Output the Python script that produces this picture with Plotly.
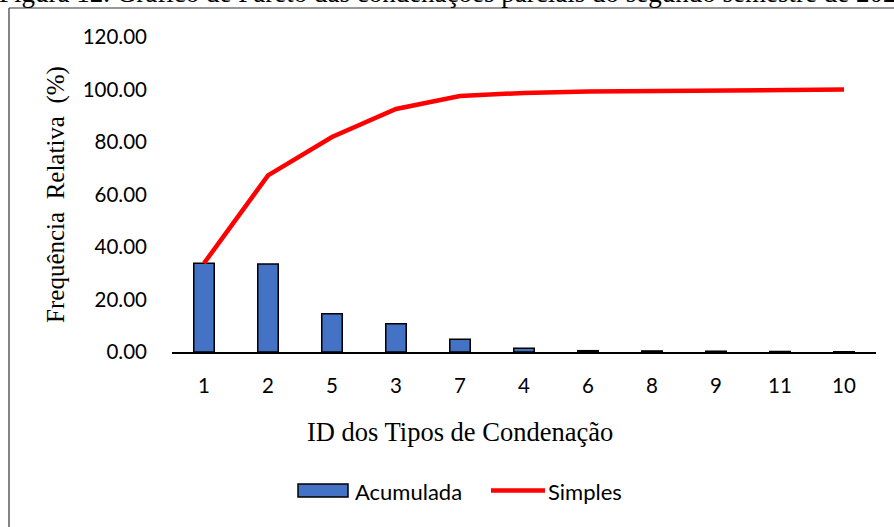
import plotly.graph_objects as go

categories = ["1", "2", "5", "3", "7", "4", "6", "8", "9", "11", "10"]
acumulada = [33.8, 33.5, 14.6, 10.8, 4.9, 1.4, 0.5, 0.4, 0.3, 0.2, 0.1]
simples = [33.8, 67.3, 81.9, 92.6, 97.5, 98.7, 99.2, 99.5, 99.8, 99.9, 100.0]
y_ticks = [0, 20, 40, 60, 80, 100, 120]

W, H = 894, 527
L, R, T, B = 172, 18, 37, 175
PW, PH = W - L - R, H - T - B

def px(x):
    return (x - L) / PW

def py(y):
    return (H - B - y) / PH

fig = go.Figure()
fig.add_trace(go.Bar(
    x=categories, y=acumulada, name="Acumulada",
    marker=dict(color="#4472C4", line=dict(color="black", width=1.5)),
    showlegend=False,
))
fig.add_trace(go.Scatter(
    x=categories, y=simples, name="Simples", mode="lines",
    line=dict(color="#FF0000", width=4.5),
    showlegend=False,
))

serif = "Liberation Serif, Times New Roman, serif"
sans = "Lato, Calibri, sans-serif"

shapes = [
    # outer frame (left and top edges)
    dict(type="line", xref="paper", yref="paper", x0=px(9), x1=px(9), y0=py(8), y1=py(540),
         line=dict(color="#333333", width=1.2)),
    dict(type="line", xref="paper", yref="paper", x0=px(9), x1=px(900), y0=py(8), y1=py(8),
         line=dict(color="#333333", width=1.2)),
    # legend symbols
    dict(type="rect", xref="paper", yref="paper", x0=px(298), x1=px(348), y0=py(484), y1=py(497),
         fillcolor="#4472C4", line=dict(color="black", width=1.5)),
    dict(type="line", xref="paper", yref="paper", x0=px(491), x1=px(545), y0=py(490.5), y1=py(490.5),
         line=dict(color="#FF0000", width=4.5)),
]

annotations = [
    dict(text="Figura 12. Gráfico de Pareto das condenações parciais do segundo semestre de 2023",
         xref="paper", yref="paper", x=px(-3), y=py(-7), xanchor="left", yanchor="middle",
         showarrow=False, font=dict(family=serif, size=27, color="black")),
    dict(text="ID dos Tipos de Condenação", xref="paper", yref="paper", x=px(460), y=py(432),
         xanchor="center", yanchor="middle", showarrow=False,
         font=dict(family=serif, size=26.5, color="black")),
    dict(text="Acumulada", xref="paper", yref="paper", x=px(353), y=py(491),
         xanchor="left", yanchor="middle", showarrow=False,
         font=dict(family=sans, size=22, color="black")),
    dict(text="Simples", xref="paper", yref="paper", x=px(546), y=py(491),
         xanchor="left", yanchor="middle", showarrow=False,
         font=dict(family=sans, size=22, color="black")),
]

fig.update_layout(
    width=W, height=H,
    margin=dict(l=L, r=R, t=T, b=B, pad=0),
    paper_bgcolor="white", plot_bgcolor="white",
    bargap=0.68,
    showlegend=False,
    shapes=shapes,
    annotations=annotations,
    xaxis=dict(
        type="category", categoryorder="array", categoryarray=categories,
        showgrid=False, zeroline=False,
        showline=True, linecolor="black", linewidth=2,
        ticks="", ticklabelstandoff=14,
        tickfont=dict(family=sans, size=20.5, color="black"),
    ),
    yaxis=dict(
        range=[0, 120], tickvals=y_ticks,
        tickformat=".2f",
        showgrid=False, zeroline=False, showline=False,
        ticks="", ticklabelstandoff=24,
        tickfont=dict(family=sans, size=20.5, color="black"),
        title=dict(text="Frequência  Relativa  (%)", standoff=10,
                   font=dict(family=serif, size=25, color="black")),
    ),
)

fig.write_html("out.html")
